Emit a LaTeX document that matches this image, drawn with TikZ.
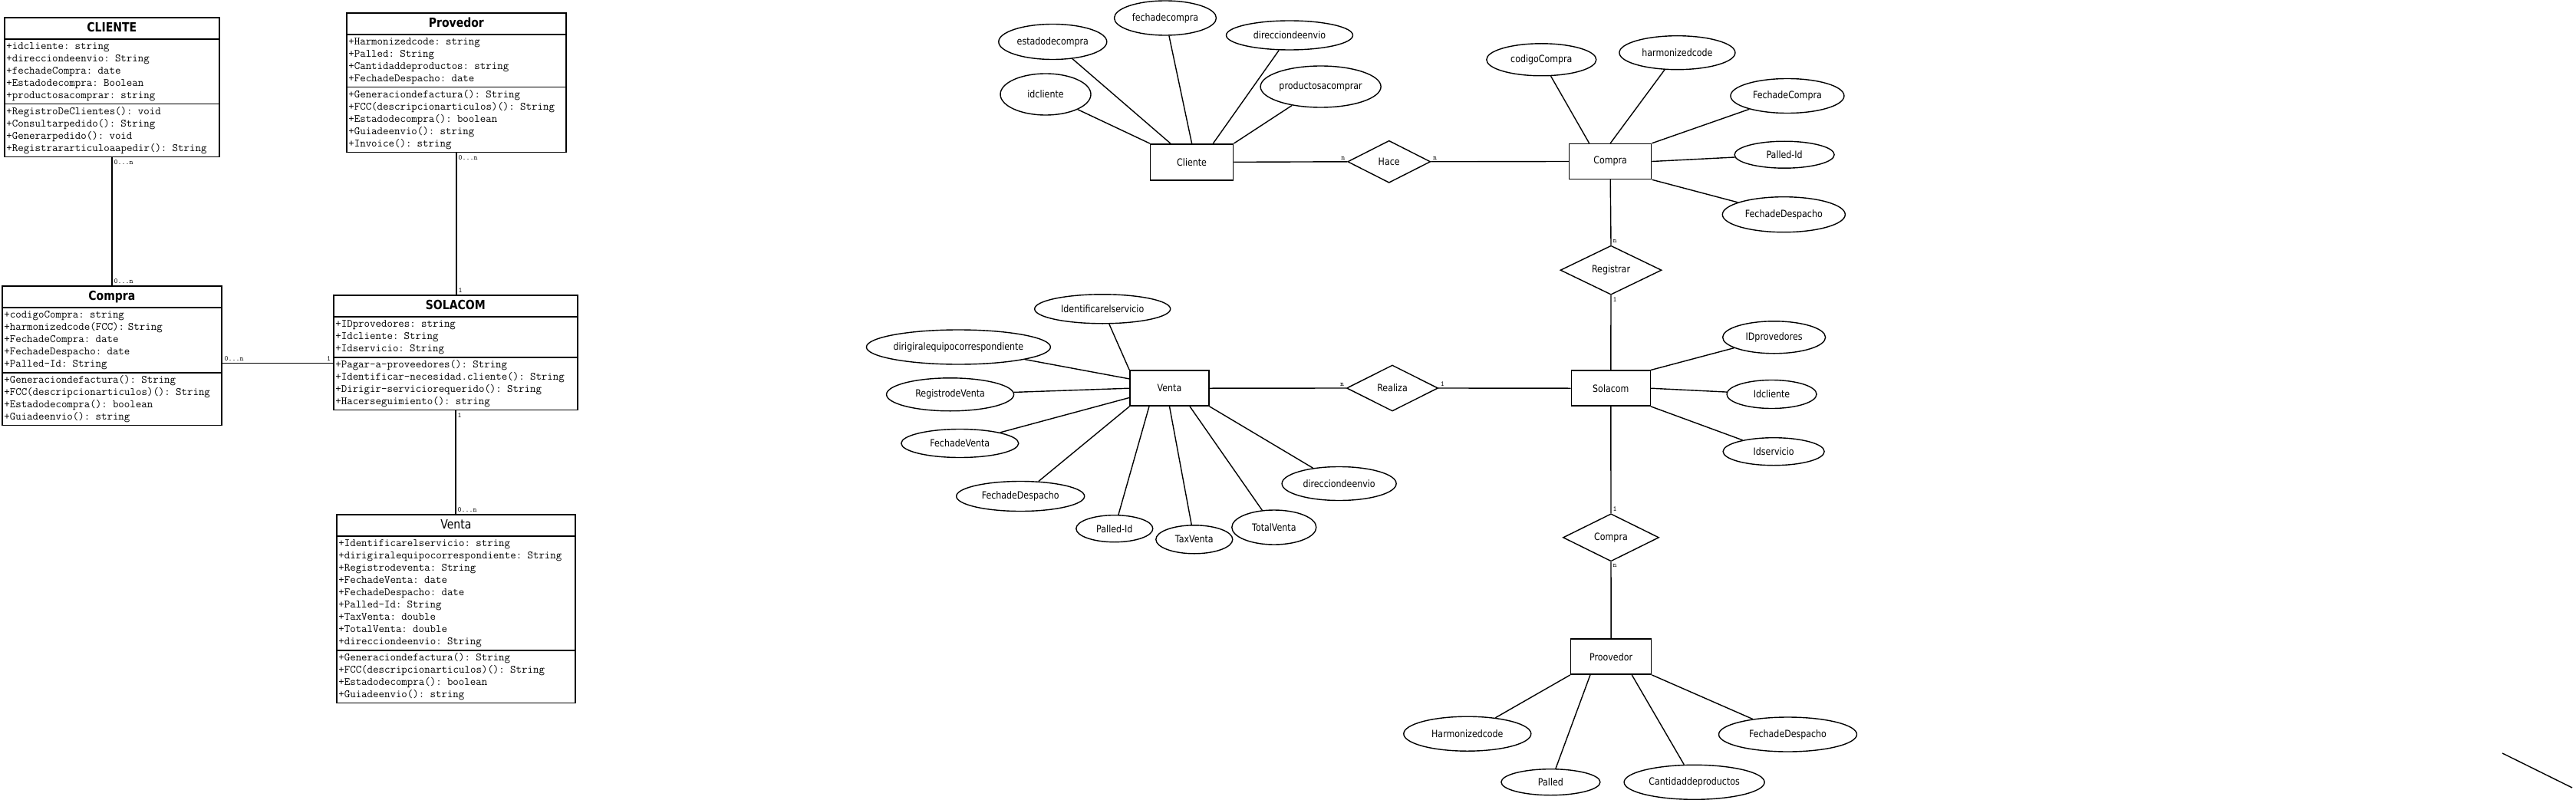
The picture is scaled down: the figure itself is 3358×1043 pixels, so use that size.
\documentclass[tikz,border=0pt]{standalone}
\usepackage{fontspec}
\usetikzlibrary{shapes.multipart,shapes.geometric}
\newfontfamily\sansnarrow[FakeStretch=0.85]{DejaVu Sans}
\newcommand\umltitle{\sansnarrow\fontsize{16.5}{23}\selectfont}
\newcommand\umltext{\fontsize{14.5}{16}\selectfont\ttfamily}
\newcommand\ertext{\sansnarrow\fontsize{13}{15}\selectfont}
\newcommand\multtext{\fontsize{9.5}{10}\selectfont\ttfamily}
\tikzset{
  umlclass/.style={draw,line width=1.7pt,rectangle split,rectangle split parts=3,anchor=north west,inner xsep=2.5pt,inner ysep=1.6pt,font=\umltext,align=left},
  umllink/.style={line width=1.7pt},
  mult/.style={font=\multtext,inner sep=2pt},
  entity/.style={draw,line width=1.5pt,minimum width=105pt,minimum height=46pt,font=\ertext},
  relation/.style={draw,diamond,line width=1.4pt,inner sep=0pt,font=\ertext},
  attrib/.style={draw,ellipse,line width=1.4pt,inner sep=0pt,font=\ertext},
  erlink/.style={line width=1.4pt}
}

\begin{document}
\begin{tikzpicture}[x=1pt,y=-1pt]
\useasboundingbox (0,0) rectangle (3358,1043);
% clases UML
\node[umlclass,text width=275pt] (cliente) at (5,22)
  {\centering\umltitle\bfseries\strut CLIENTE\par
   \nodepart{two}\strut+idcliente: string\\+direcciondeenvio: String\\+fechadeCompra: date\\+Estadodecompra: Boolean\\+productosacomprar: string\strut
   \nodepart{three}\strut+RegistroDeClientes(): void\\+Consultarpedido(): String\\+Generarpedido(): void\\+Registrararticuloaapedir(): String\strut};
\node[umlclass,text width=281pt] (provedor) at (451,16)
  {\centering\umltitle\bfseries\strut Provedor\par
   \nodepart{two}\strut+Harmonizedcode: string\\+Palled: String\\+Cantidaddeproductos: string\\+FechadeDespacho: date\strut
   \nodepart{three}\strut+Generaciondefactura(): String\\+FCC(descripcionarticulos)(): String\\+Estadodecompra(): boolean\\+Guiadeenvio(): string\\+Invoice(): string\strut};
\node[umlclass,text width=281pt] (compra) at (2,372)
  {\centering\umltitle\bfseries\strut Compra\par
   \nodepart{two}\strut+codigoCompra: string\\+harmonizedcode(FCC): String\\+FechadeCompra: date\\+FechadeDespacho: date\\+Palled-Id: String\strut
   \nodepart{three}\strut+Generaciondefactura(): String\\+FCC(descripcionarticulos)(): String\\+Estadodecompra(): boolean\\+Guiadeenvio(): string\strut};
\node[umlclass,text width=313pt] (solacom) at (434,384)
  {\centering\umltitle\bfseries\strut SOLACOM\par
   \nodepart{two}\strut+IDprovedores: string\\+Idcliente: String\\+Idservicio: String\strut
   \nodepart{three}\strut+Pagar-a-proveedores(): String\\+Identificar-necesidad.cliente(): String\\+Dirigir-serviciorequerido(): String\\+Hacerseguimiento(): string\strut};
\node[umlclass,text width=306pt] (venta) at (438,670)
  {\centering\umltitle\strut Venta\par
   \nodepart{two}\strut+Identificarelservicio: string\\+dirigiralequipocorrespondiente: String\\+Registrodeventa: String\\+FechadeVenta: date\\+FechadeDespacho: date\\+Palled-Id: String\\+TaxVenta: double\\+TotalVenta: double\\+direcciondeenvio: String\strut
   \nodepart{three}\strut+Generaciondefactura(): String\\+FCC(descripcionarticulos)(): String\\+Estadodecompra(): boolean\\+Guiadeenvio(): string\strut};

\draw[umllink] (cliente.south) -- (compra.north)
  node[mult,pos=0,anchor=north west]{0...n} node[mult,pos=1,anchor=south west]{0...n};
\draw[umllink] (provedor.south) -- (provedor.south |- solacom.north)
  node[mult,pos=0,anchor=north west]{0...n} node[mult,pos=1,anchor=south west]{1};
\draw[umllink] (solacom.south) -- (solacom.south |- venta.north)
  node[mult,pos=0,anchor=north west]{1} node[mult,pos=1,anchor=south west]{0...n};
\draw[umllink] ([yshift=-101.5pt]compra.north east) -- ([yshift=-101.5pt]compra.north east -| solacom.west)
  node[mult,pos=0,anchor=south west]{0...n} node[mult,pos=1,anchor=south east]{1};

% modelo entidad-relacion
\node[entity,minimum width=108pt,minimum height=47pt] (cli) at (1553.6,211.3) {Cliente};
\node[entity,minimum width=107pt] (com) at (2099.2,210.5) {Compra};
\node[entity,minimum width=103pt] (sol) at (2099.8,506.2) {Solacom};
\node[entity,minimum width=103pt] (ven) at (1524.5,506.2) {Venta};
\node[entity] (pro) at (2100.1,856.2) {Proovedor};

\node[relation,minimum width=108pt,minimum height=55pt] (hace) at (1810.7,210.8) {Hace};
\node[relation,minimum width=132pt,minimum height=64pt] (reg) at (2100,352.2) {Registrar};
\node[relation,minimum width=119pt,minimum height=60pt] (rea) at (1815,506) {Realiza};
\node[relation,minimum width=125pt,minimum height=62pt] (cmp) at (2100,700.8) {Compra};

\node[attrib,minimum width=118pt,minimum height=54pt] (idc) at (1363,123) {idcliente};
\node[attrib,minimum width=141pt,minimum height=46pt] (edc) at (1372.3,54.5) {estadodecompra};
\node[attrib,minimum width=133pt,minimum height=45pt] (fdc) at (1519,23.5) {fechadecompra};
\node[attrib,minimum width=165pt,minimum height=38pt] (dde) at (1681,46) {direcciondeenvio};
\node[attrib,minimum width=157pt,minimum height=54pt] (pac) at (1721.6,113) {productosacomprar};

\node[attrib,minimum width=143pt,minimum height=42pt] (cco) at (2009.3,77.8) {codigoCompra};
\node[attrib,minimum width=151pt,minimum height=44pt] (hco) at (2186.4,68.7) {harmonizedcode};
\node[attrib,minimum width=148pt,minimum height=45pt] (fco) at (2329.9,125) {FechadeCompra};
\node[attrib,minimum width=130pt,minimum height=35pt] (pid) at (2326.1,201.7) {Palled-Id};
\node[attrib,minimum width=160pt,minimum height=46pt] (fde) at (2325.3,279.7) {FechadeDespacho};

\node[attrib,minimum width=134pt,minimum height=42pt] (idp) at (2312.6,439.8) {IDprovedores};
\node[attrib,minimum width=117pt,minimum height=37pt] (idcl) at (2309.5,514) {Idcliente};
\node[attrib,minimum width=132pt,minimum height=36pt] (ids) at (2312.1,588.7) {Idservicio};

\node[attrib,minimum width=177pt,minimum height=38pt] (ies) at (1437.2,402.8) {Identificarelservicio};
\node[attrib,minimum width=224pt,minimum height=45pt] (dir) at (1249.4,452.5) {dirigiralequipocorrespondiente};
\node[attrib,minimum width=166pt,minimum height=43pt] (rdv) at (1238.6,514.3) {RegistrodeVenta};
\node[attrib,minimum width=153pt,minimum height=37pt] (fdv) at (1251.3,578) {FechadeVenta};
\node[attrib,minimum width=167pt,minimum height=39pt] (fdd) at (1330.2,647) {FechadeDespacho};
\node[attrib,minimum width=100pt,minimum height=35pt] (vpid) at (1452.8,689.2) {Palled-Id};
\node[attrib,minimum width=100pt,minimum height=37pt] (tax) at (1556.8,703.3) {TaxVenta};
\node[attrib,minimum width=110pt,minimum height=45pt] (tot) at (1660.8,687.5) {TotalVenta};
\node[attrib,minimum width=149pt,minimum height=44pt] (vdde) at (1745.6,630.5) {direcciondeenvio};

\node[attrib,minimum width=166pt,minimum height=45pt] (harm) at (1912.8,956.7) {Harmonizedcode};
\node[attrib,minimum width=129pt,minimum height=34pt] (pal) at (2021.4,1019.7) {Palled};
\node[attrib,minimum width=183pt,minimum height=45pt] (cdp) at (2208.6,1019.8) {Cantidaddeproductos};
\node[attrib,minimum width=180pt,minimum height=45pt] (pfd) at (2330.5,957.5) {FechadeDespacho};

% relaciones
\draw[erlink] (cli.east) -- (hace.west) node[mult,pos=1,above left]{n};
\draw[erlink] (hace.east) -- (com.west) node[mult,pos=0,above right]{n};
\draw[erlink] (com.south) -- (reg.north) node[mult,pos=1,above right]{n};
\draw[erlink] (reg.south) -- (sol.north) node[mult,pos=0,below right]{1};
\draw[erlink] (ven.east) -- (rea.west) node[mult,pos=1,above left]{n};
\draw[erlink] (rea.east) -- (sol.west) node[mult,pos=0,above right]{1};
\draw[erlink] (sol.south) -- (cmp.north) node[mult,pos=1,above right]{1};
\draw[erlink] (cmp.south) -- (pro.north) node[mult,pos=0,below right]{n};

% atributos
\draw[erlink] (idc) -- (cli.north west);
\draw[erlink] (edc) -- ([xshift=27pt]cli.north west);
\draw[erlink] (fdc) -- (cli.north);
\draw[erlink] (dde) -- ([xshift=-27pt]cli.north east);
\draw[erlink] (pac) -- (cli.north east);

\draw[erlink] (cco) -- ([xshift=26.7pt]com.north west);
\draw[erlink] (hco) -- (com.north);
\draw[erlink] (fco) -- (com.north east);
\draw[erlink] (pid) -- (com.east);
\draw[erlink] (fde) -- (com.south east);

\draw[erlink] (idp) -- (sol.north east);
\draw[erlink] (idcl) -- (sol.east);
\draw[erlink] (ids) -- (sol.south east);

\draw[erlink] (ies) -- (ven.north west);
\draw[erlink] (dir) -- ([yshift=-11.5pt]ven.north west);
\draw[erlink] (rdv) -- (ven.west);
\draw[erlink] (fdv) -- ([yshift=11.5pt]ven.south west);
\draw[erlink] (fdd) -- (ven.south west);
\draw[erlink] (vpid) -- ([xshift=25.7pt]ven.south west);
\draw[erlink] (tax) -- (ven.south);
\draw[erlink] (tot) -- ([xshift=-25.7pt]ven.south east);
\draw[erlink] (vdde) -- (ven.south east);

\draw[erlink] (harm) -- (pro.south west);
\draw[erlink] (pal) -- ([xshift=26.1pt]pro.south west);
\draw[erlink] (cdp) -- ([xshift=-26.1pt]pro.south east);
\draw[erlink] (pfd) -- (pro.south east);

\coordinate (trazo-a) at (3262,982);
\coordinate (trazo-b) at (3353,1027);
\draw[erlink] (trazo-a) -- (trazo-b);
\end{tikzpicture}
\end{document}
